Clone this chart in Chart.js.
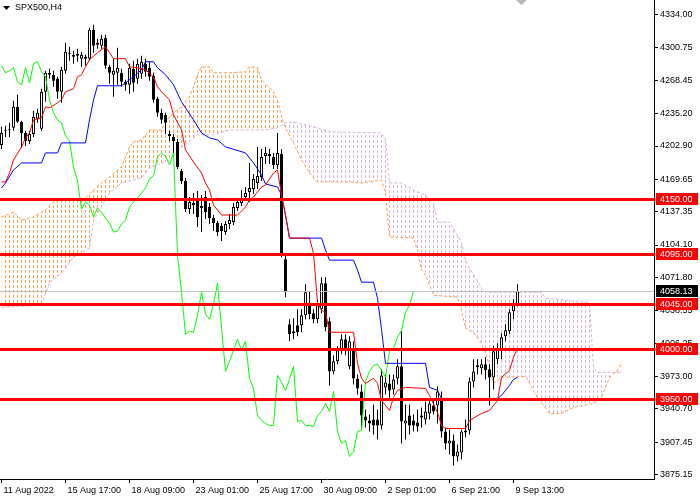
<!DOCTYPE html>
<html>
<head>
<meta charset="utf-8">
<title>SPX500,H4</title>
<style>
  html, body { margin: 0; padding: 0; background: #fff; }
</style>
<script src="https://cdn.jsdelivr.net/npm/chart.js@4.4.0/dist/chart.umd.min.js"></script>
</head>
<body>
<canvas id="c" width="700" height="500"></canvas>
<script>
// H4 candles, bar 0 = 11 Aug 2022
const opens = [4204,4218,4219,4221,4242,4227,4216,4208,4215,4230,4220,4257,4276,4274,4270,4257,4278,4296,4294,4293,
  4290,4292,4290,4319,4304,4303,4311,4282,4274,4276,4276,4267,4264,4280,4270,4275,4285,4281,4273,4250,
  4236,4234,4215,4212,4207,4178,4168,4140,4146,4151,4143,4152,4142,4131,4126,4123,4117,4125,4127,4141,
  4146,4152,4157,4160,4166,4172,4193,4195,4192,4184,4195,4090,4025,4016,4024,4024,4034,4046,4036,4030,
  4040,4066,4028,3978,3988,3999,4010,3983,4000,3971,3958,3933,3929,3930,3930,3924,3962,3966,3960,3971,
  3983,3926,3934,3929,3927,3932,3930,3936,3944,3944,3951,3918,3906,3909,3893,3897,3917,3919,3968,3982,
  3981,3985,3980,3972,3990,4000,4013,4018,4038,4044];
const highs = [4222,4223,4226,4248,4254,4228,4218,4218,4238,4240,4260,4278,4280,4278,4272,4282,4306,4302,4298,4300,
  4297,4294,4321,4324,4310,4314,4314,4284,4290,4301,4280,4269,4285,4288,4290,4293,4290,4287,4276,4252,
  4240,4236,4218,4215,4210,4180,4171,4152,4156,4158,4154,4158,4146,4134,4128,4126,4128,4135,4146,4150,
  4159,4162,4186,4175,4202,4200,4202,4200,4196,4216,4200,4094,4030,4031,4040,4040,4065,4058,4040,4050,
  4072,4072,4032,3994,4003,4015,4015,4013,4008,3975,3965,3940,3935,3945,3940,3980,3975,3975,3975,3990,
  4018,3945,3945,3935,3940,3942,3948,3950,3950,3963,3958,3922,3920,3915,3905,3920,3930,3972,3990,3990,
  3990,3992,3985,4003,4006,4016,4025,4040,4050,4065];
const lows = [4200,4212,4212,4218,4226,4201,4203,4205,4212,4226,4218,4247,4270,4262,4250,4246,4275,4288,4285,4287,
  4282,4283,4288,4296,4300,4300,4280,4265,4252,4264,4262,4258,4255,4257,4265,4270,4272,4268,4246,4232,
  4225,4215,4208,4195,4180,4165,4137,4135,4135,4122,4117,4130,4125,4118,4113,4108,4114,4120,4124,4138,
  4143,4148,4147,4155,4160,4168,4185,4185,4180,4180,4092,4052,4008,4010,4013,4017,4030,4030,4026,4026,
  4036,4018,3964,3975,3985,3995,3994,3980,3965,3955,3921,3922,3918,3915,3910,3920,3955,3950,3955,3965,
  3906,3910,3915,3918,3918,3922,3925,3930,3935,3926,3912,3900,3895,3884,3888,3890,3912,3915,3962,3975,
  3975,3970,3944,3960,3985,3990,4008,4015,4030,4043];
const closes = [4216,4219,4220,4242,4227,4216,4208,4215,4232,4236,4257,4276,4274,4268,4257,4279,4297,4295,4292,4295,
  4294,4290,4319,4303,4306,4310,4283,4276,4278,4281,4267,4264,4281,4266,4285,4287,4277,4272,4249,4236,
  4229,4226,4213,4208,4182,4168,4140,4147,4144,4132,4141,4137,4131,4126,4117,4118,4125,4129,4142,4147,
  4151,4156,4161,4170,4173,4192,4196,4193,4184,4196,4094,4057,4015,4018,4017,4034,4057,4035,4030,4045,
  4066,4022,3978,3988,3999,4010,3999,4008,3971,3961,3934,3929,3926,3924,3924,3974,3967,3959,3970,3983,
  3928,3929,3924,3924,3923,3934,3938,3946,3938,3958,3918,3906,3909,3893,3898,3918,3919,3968,3978,3984,
  3985,3979,3972,3998,4001,4012,4019,4037,4044,4058.13];

// Ichimoku lines: [bar, price]
const tenkan = [[0,4167],[1,4167],[2,4176],[3,4189],[5,4202],[6,4211],[7,4216],[8,4229],[10,4231],[11,4242],
  [12,4241],[14,4246],[15,4249],[16,4257],[18,4260],[19,4272],[20,4274],[21,4282],[22,4289],[24,4296],
  [26,4302],[27,4296],[28,4290],[31,4290],[32,4282],[34,4281],[36,4279],[38,4272],[39,4262],[40,4257],
  [42,4249],[43,4234],[45,4219],[46,4199],[48,4187],[50,4176],[51,4166],[52,4159],[53,4144],[55,4134],
  [59,4134],[61,4142],[62,4149],[63,4152],[65,4162],[66,4164],[68,4176],[69,4179],[70,4154],[71,4134],
  [72,4111],[77,4111],[78,4096],[79,4046],[80,4039],[81,4037],[82,4017],[88,4017],[89,3986],[90,3971],
  [91,3966],[93,3971],[94,3966],[95,3949],[97,3939],[98,3952],[99,3959],[101,3962],[106,3961],[107,3954],
  [109,3937],[110,3924],[111,3921],[116,3921],[117,3929],[120,3936],[122,3939],[124,3949],[125,3972],
  [127,3979],[128,3992],[129,4001]];
const kijun = [[0,4161],[1,4166],[3,4179],[5,4186],[10,4186],[11,4196],[14,4196],[15,4206],[21,4206],[22,4229],
  [23,4249],[24,4263],[30,4263],[31,4266],[33,4272],[35,4279],[36,4287],[38,4287],[39,4281],[41,4274],
  [43,4264],[45,4247],[48,4229],[50,4216],[52,4211],[54,4209],[56,4202],[61,4196],[63,4186],[65,4174],
  [66,4165],[69,4162],[70,4154],[71,4134],[72,4111],[80,4111],[81,4099],[82,4089],[88,4089],[89,4079],
  [90,4067],[93,4067],[94,4051],[95,4020],[96,3986],[106,3986],[107,3962],[109,3959],[110,3951],[124,3951],
  [125,3954],[127,3964],[128,3970],[129,3972]];
const chikou = [4283,4276,4278,4281,4267,4264,4281,4266,4285,4287,4277,4272,4249,4236,4229,4226,4213,4208,4182,4168,
  4140,4147,4144,4132,4141,4137,4131,4126,4117,4118,4125,4129,4142,4147,4151,4156,4161,4170,4173,4192,
  4196,4193,4184,4196,4094,4057,4015,4018,4017,4034,4057,4035,4030,4045,4066,4022,3978,3988,3999,4010,
  3999,4008,3971,3961,3934,3929,3926,3924,3924,3974,3967,3959,3970,3983,3928,3929,3924,3924,3923,3934,
  3938,3946,3938,3958,3918,3906,3909,3893,3898,3918,3919,3968,3978,3984,3985,3979,3972,3998,4001,4012,
  4019,4037,4044,4058.13];
const senkouA = [[0,4132],[3,4137],[5,4129],[8,4132],[10,4137],[11,4139],[13,4147],[15,4149],[18,4149],[21,4151],
  [23,4159],[25,4166],[27,4172],[30,4182],[32,4202],[33,4207],[35,4209],[37,4219],[40,4219],[41,4227],
  [42,4232],[44,4239],[45,4242],[47,4252],[48,4262],[49,4274],[50,4282],[52,4282],[53,4276],[57,4276],
  [61,4277],[62,4282],[64,4281],[65,4269],[68,4257],[69,4249],[70,4232],[71,4221],[73,4206],[75,4189],
  [77,4176],[79,4167],[87,4167],[90,4166],[95,4169],[96,4156],[97,4112],[103,4111],[104,4099],[105,4079],
  [106,4074],[108,4054],[114,4052],[115,4039],[116,4021],[118,4017],[120,4006],[121,3996],[122,3984],
  [123,3966],[125,3972],[131,3973],[132,3966],[134,3952],[137,3936],[140,3936],[143,3942],[148,3946],
  [150,3952],[152,3972],[154,3979],[155,3987]];
const senkouB = [[0,4042],[10,4044],[12,4067],[15,4076],[18,4092],[21,4099],[22,4101],[23,4129],[27,4156],
  [30,4166],[33,4169],[35,4171],[37,4181],[42,4189],[45,4202],[49,4214],[53,4214],[57,4219],[66,4219],
  [69,4221],[71,4226],[73,4227],[79,4221],[82,4217],[95,4216],[96,4209],[97,4166],[100,4166],[103,4159],
  [106,4154],[108,4146],[109,4127],[112,4127],[115,4107],[116,4089],[117,4081],[120,4061],[121,4057],
  [135,4057],[136,4051],[146,4047],[147,4046],[148,3982],[149,3977],[155,3977]];

const levels = [4150, 4095, 4045, 4000, 3950];
const lastPrice = 4058.13;
const yTicks = [4334.00,4300.75,4268.45,4235.20,4202.90,4169.65,4137.35,4104.10,4071.80,4038.55,4006.25,3973.00,3940.70,3907.45,3875.15];
const xTickBars = [0, 16, 32, 48, 64, 80, 96, 112, 128];
const xTickText = ['11 Aug 2022','15 Aug 17:00','18 Aug 09:00','23 Aug 01:00','25 Aug 17:00','30 Aug 09:00','2 Sep 01:00','6 Sep 21:00','9 Sep 13:00'];
const cloudBars = 155;

const FONT = "'Liberation Sans', Arial, sans-serif";
const ORANGE = 'rgb(250,160,80)', THISTLE = 'rgb(215,180,215)';
const pts = arr => arr.map(p => ({x: p[0], y: p[1]}));

function noPad(s) { s.paddingLeft = 0; s.paddingRight = 0; s.paddingTop = 0; s.paddingBottom = 0; }

// dotted histogram fill between the two senkou lines (kumo)
const cloud = {
  id: 'cloud',
  beforeDatasetsDraw(chart) {
    const c = chart.ctx, a = chart.chartArea, xs = chart.scales.x;
    const pa = chart.getDatasetMeta(0).data, pb = chart.getDatasetMeta(1).data;
    const edge = (p, toY) => {
      c.beginPath();
      c.moveTo(p[0].x, toY);
      p.forEach(q => c.lineTo(q.x, q.y));
      c.lineTo(p[p.length - 1].x, toY);
      c.closePath();
    };
    const shade = (upper, lower, color) => {
      c.save();
      c.beginPath(); c.rect(a.left, a.top, a.right - a.left, a.bottom - a.top); c.clip();
      edge(upper, a.bottom); c.clip();
      edge(lower, a.top); c.clip();
      c.fillStyle = color;
      for (let i = 0; i <= cloudBars; i++) {
        const x = Math.floor(xs.getPixelForValue(i));
        for (let y = Math.floor(a.top); y < a.bottom; y += 5) {
          c.fillRect(x, y, 1, 3);
        }
      }
      c.restore();
    };
    shade(pa, pb, ORANGE);
    shade(pb, pa, THISTLE);
  }
};

function tag(c, chart, v, color) {
  const y = Math.round(chart.scales.y.getPixelForValue(v));
  const x = chart.chartArea.right + 2;
  c.fillStyle = color;
  c.fillRect(x, y - 6, 42, 12);
  c.fillStyle = '#fff';
  c.fillText(v.toFixed(2), x + 4, y + 0.5);
}

const overlay = {
  id: 'overlay',
  afterDatasetsDraw(chart) {
    const c = chart.ctx, a = chart.chartArea, y = chart.scales.y;
    c.save();
    c.strokeStyle = '#c0c0c0';
    c.lineWidth = 1;
    const p = Math.round(y.getPixelForValue(lastPrice)) + 0.5;
    c.beginPath(); c.moveTo(a.left, p); c.lineTo(a.right, p); c.stroke();
    c.strokeStyle = '#ff0000';
    c.lineWidth = 3;
    levels.forEach(v => {
      const q = Math.round(y.getPixelForValue(v)) + 0.5;
      c.beginPath(); c.moveTo(a.left, q); c.lineTo(a.right + 1, q); c.stroke();
    });
    c.restore();
  },
  afterDraw(chart) {
    const c = chart.ctx;
    c.save();
    c.font = '9px ' + FONT;
    c.textBaseline = 'middle';
    c.textAlign = 'left';
    levels.forEach(v => tag(c, chart, v, '#ff0000'));
    tag(c, chart, lastPrice, '#000000');
    // symbol caption
    c.fillStyle = '#000';
    c.beginPath(); c.moveTo(3, 6); c.lineTo(10, 6); c.lineTo(6.5, 10); c.closePath(); c.fill();
    c.fillText('SPX500,H4', 15, 8);
    // chart shift marker
    c.fillStyle = '#b8b8b8';
    c.beginPath(); c.moveTo(516, 0); c.lineTo(527, 0); c.lineTo(521.5, 5); c.closePath(); c.fill();
    c.restore();
  }
};

new Chart(document.getElementById('c'), {
  type: 'bar',
  data: {
    datasets: [
      { type: 'line', label: 'Senkou A', data: pts(senkouA), borderColor: ORANGE, borderWidth: 1,
        borderDash: [3, 2], pointRadius: 0, tension: 0, fill: false, order: 10 },
      { type: 'line', label: 'Senkou B', data: pts(senkouB), borderColor: THISTLE, borderWidth: 1,
        borderDash: [3, 2], pointRadius: 0, tension: 0, fill: false, order: 9 },
      { label: 'wick', data: highs.map((h, i) => ({x: i, y: [lows[i], h]})), backgroundColor: '#000',
        barThickness: 1, grouped: false, inflateAmount: 0, order: 6 },
      { label: 'body', data: opens.map((o, i) => ({x: i, y: [o, closes[i]]})),
        backgroundColor: closes.map((c, i) => c >= opens[i] ? '#ffffff' : '#000000'),
        borderColor: '#000', borderWidth: 1, borderSkipped: false, barThickness: 3,
        grouped: false, inflateAmount: 0, minBarLength: 1, order: 5 },
      { type: 'line', label: 'Chikou', data: chikou.map((v, i) => ({x: i, y: v})), borderColor: '#00ff00',
        borderWidth: 1, pointRadius: 0, tension: 0, fill: false, order: 4 },
      { type: 'line', label: 'Kijun', data: pts(kijun), borderColor: '#0000ff',
        borderWidth: 1, pointRadius: 0, tension: 0, fill: false, order: 3 },
      { type: 'line', label: 'Tenkan', data: pts(tenkan), borderColor: '#ff0000',
        borderWidth: 1, pointRadius: 0, tension: 0, fill: false, order: 2 }
    ]
  },
  options: {
    responsive: false,
    devicePixelRatio: 1,
    animation: false,
    layout: { padding: 0 },
    plugins: { legend: { display: false }, tooltip: { enabled: false } },
    scales: {
      x: {
        type: 'linear', min: -0.375, max: 163.125, offset: false,
        afterBuildTicks: s => { s.ticks = xTickBars.map(v => ({value: v})); },
        afterFit: s => { s.height = 21; noPad(s); },
        grid: { offset: false, drawOnChartArea: false, drawTicks: true, tickLength: 4, color: '#000' },
        border: { display: true, color: '#000' },
        ticks: { align: 'start', autoSkip: false, maxRotation: 0, labelOffset: 2, padding: 2,
                 color: '#000', font: { family: FONT, size: 9 },
                 callback: (v, i) => xTickText[i] }
      },
      y: {
        position: 'right', min: 3870.6, max: 4348.6,
        afterBuildTicks: s => { s.ticks = yTicks.map(v => ({value: v})); },
        afterFit: s => { s.width = 46; noPad(s); },
        grid: { drawOnChartArea: false, drawTicks: true, tickLength: 4, color: '#000' },
        border: { display: true, color: '#000' },
        ticks: { padding: 2, color: '#000', font: { family: FONT, size: 9 },
                 callback: v => v.toFixed(2) }
      }
    }
  },
  plugins: [cloud, overlay]
});
</script>
</body>
</html>
